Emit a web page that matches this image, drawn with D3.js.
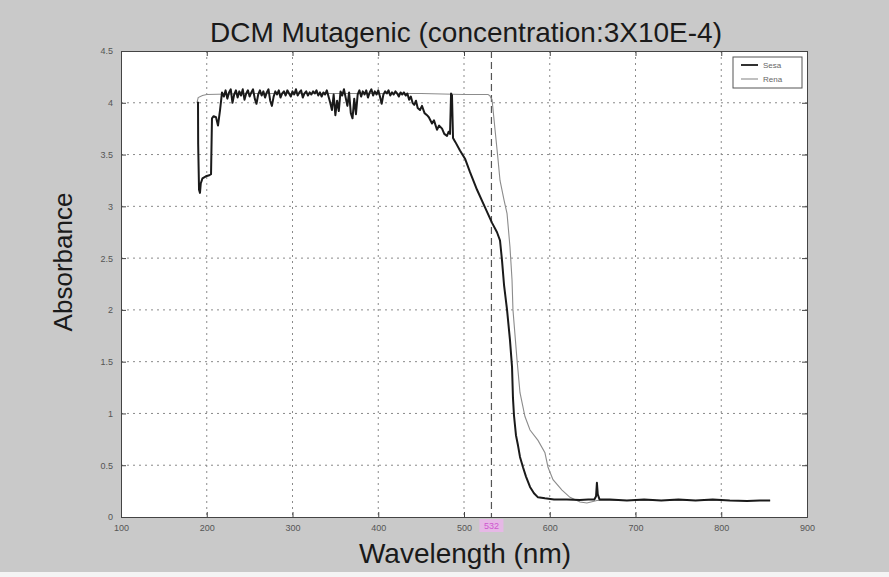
<!DOCTYPE html>
<html><head><meta charset="utf-8">
<script src="https://cdn.jsdelivr.net/npm/d3@7"></script>
<style>html,body{margin:0;padding:0;background:#c9c9c9;}svg{display:block;}</style>
</head><body>
<script>
const title = "DCM Mutagenic (concentration:3X10E-4)";
const xLabel = "Wavelength (nm)";
const yLabel = "Absorbance";
const xTicks = [100,200,300,400,500,600,700,800,900];
const yTicks = [0,0.5,1,1.5,2,2.5,3,3.5,4,4.5];
const seriesNames = ["Sesa","Rena"];
const markerWl = 532;

const blackWl = [189.8,190,191,192.1,193,195,197,199,203,205,206.1,208,210.8,213.1,215.5,217.8,
220,222,224,226,228,230,232,234,236,238,240,242,244,246,248,250,252,254,256,258,260,262,264,266,268,270,272,274,276,278,280,282,284,286,288,290,292,294,296,298,300,302,304,306,308,310,312,314,316,318,320,322,324,326,328,330,332,334,336,338,340,342,344,346,348,350,352,354,356,358,360,362,364,366,368,370,372,374,376,378,380,382,384,386,388,390,392,394,396,398,400,402,404,406,408,410,412,414,416,418,420,422,424,426,428,430,432,434,436,438,440,
442,444,446,448.7,451,454,456.9,459,462.7,465,468.5,471,474.4,477,480.2,482,483.7,484.9,486,487.2,490,495.3,501.2,507,515.2,524.5,532.7,538.5,542,544.3,546.7,550.2,553.6,556,557.1,558.3,560.6,563,565.3,568.8,572.3,577,581.6,586.3,594.4,605,620,635,645,652,654,655,656,658,670,690,710,730,750,770,790,810,830,845,857];
const blackAbs = [4.01,3.60,3.16,3.13,3.22,3.27,3.28,3.29,3.30,3.31,3.85,3.87,3.86,3.78,3.93,4.10,
4.06,4.12,4.04,4.10,4.13,4.00,4.08,4.12,4.05,4.11,4.07,4.13,4.03,4.09,4.12,4.06,4.10,4.13,4.04,3.99,4.08,4.12,4.07,4.11,4.05,4.10,4.13,4.02,3.97,4.06,4.11,4.08,4.12,4.05,4.09,4.11,4.07,4.12,4.09,4.06,4.11,4.08,4.13,4.07,4.10,4.12,4.05,4.09,4.11,4.07,4.10,4.08,4.11,4.09,4.12,4.07,4.10,4.06,4.10,4.08,4.12,4.06,4.00,3.93,4.08,3.88,4.02,3.92,4.11,4.07,4.13,4.05,3.97,4.10,3.90,3.85,4.04,3.89,4.08,4.12,4.06,4.11,4.08,4.12,4.05,4.10,4.13,4.07,4.11,4.08,4.12,4.06,3.99,4.08,4.11,4.09,4.12,4.07,4.10,4.08,4.11,4.09,4.06,4.10,4.08,4.10,4.07,4.09,4.03,4.06,4.00,
3.98,4.02,3.95,3.93,3.97,3.90,3.88,3.86,3.80,3.83,3.74,3.78,3.75,3.70,3.68,3.72,3.70,4.09,4.07,3.66,3.62,3.54,3.46,3.33,3.16,2.99,2.84,2.75,2.67,2.48,2.24,2.00,1.71,1.45,1.15,0.98,0.79,0.69,0.58,0.48,0.39,0.29,0.23,0.19,0.18,0.17,0.17,0.165,0.17,0.17,0.20,0.33,0.22,0.17,0.17,0.16,0.17,0.16,0.17,0.16,0.17,0.16,0.155,0.16,0.16];

const grayWl = [188.6,190,195,200,250,300,350,400,450,500,528,530,532.7,536.2,539.7,542,546.7,550.2,553.6,556,557.1,561.8,565.3,571.1,577,586.3,594.4,598,603.8,614.3,623.6,635.3,643.4,655,700,760,857];
const grayAbs = [4.00,4.05,4.07,4.08,4.09,4.09,4.09,4.09,4.09,4.08,4.08,4.07,4.03,3.74,3.45,3.25,3.06,2.93,2.61,2.29,2.00,1.52,1.20,0.97,0.84,0.74,0.62,0.48,0.36,0.26,0.19,0.145,0.135,0.16,0.16,0.16,0.16];

const W = 889, H = 577;
const m = {l:121, r:807, t:51, b:517};
const svg = d3.select("body").append("svg").attr("width",W).attr("height",H);
svg.append("rect").attr("width",W).attr("height",H).attr("fill","#c9c9c9");
svg.append("rect").attr("x",0).attr("y",572).attr("width",W).attr("height",5).attr("fill","#f4f4f4");

const x = d3.scaleLinear().domain([100,900]).range([m.l,m.r]);
const y = d3.scaleLinear().domain([0,4.5]).range([m.b,m.t]);

svg.append("rect").attr("x",m.l).attr("y",m.t).attr("width",m.r-m.l).attr("height",m.b-m.t).attr("fill","#fff");

// grid
const g = svg.append("g");
g.selectAll(".vg").data(xTicks.slice(1,-1)).join("line")
  .attr("x1",d=>x(d)).attr("x2",d=>x(d)).attr("y1",m.t).attr("y2",m.b)
  .attr("stroke","#8a8a8a").attr("stroke-width",1).attr("stroke-dasharray","2,4");
g.selectAll(".hg").data(yTicks.slice(1,-1)).join("line")
  .attr("y1",d=>y(d)).attr("y2",d=>y(d)).attr("x1",m.l).attr("x2",m.r)
  .attr("stroke","#8a8a8a").attr("stroke-width",1).attr("stroke-dasharray","2,4");

// axes
const fmt = d => String(d);
const xAxis = d3.axisBottom(x).tickValues(xTicks).tickSize(-5).tickPadding(8).tickFormat(fmt);
const yAxis = d3.axisLeft(y).tickValues(yTicks).tickSize(-5).tickPadding(8).tickFormat(fmt);
const ax = svg.append("g").attr("transform",`translate(0,${m.b})`).call(xAxis);
const ay = svg.append("g").attr("transform",`translate(${m.l},0)`).call(yAxis);
svg.append("g").attr("transform",`translate(0,${m.t})`).call(d3.axisTop(x).tickValues(xTicks).tickSize(-5).tickFormat(""));
svg.append("g").attr("transform",`translate(${m.r},0)`).call(d3.axisRight(y).tickValues(yTicks).tickSize(-5).tickFormat(""));
svg.selectAll(".domain").attr("stroke","#444");
svg.selectAll(".tick line").attr("stroke","#444");
[ax,ay].forEach(a=>a.selectAll("text").attr("font-family","Liberation Sans, Arial, sans-serif").attr("font-size",9).attr("fill","#555"));

// marker line
svg.append("line").attr("x1",x(markerWl)).attr("x2",x(markerWl)).attr("y1",m.t).attr("y2",m.b)
  .attr("stroke","#555").attr("stroke-width",1.2).attr("stroke-dasharray","7,4");

// series
const line = d3.line().x(d=>x(d[0])).y(d=>y(d[1]));
svg.append("path").datum(grayWl.map((w,i)=>[w,grayAbs[i]])).attr("d",line)
  .attr("fill","none").attr("stroke","#8c8c8c").attr("stroke-width",1.1);
svg.append("path").datum(blackWl.map((w,i)=>[w,blackAbs[i]])).attr("d",line)
  .attr("fill","none").attr("stroke","#1a1a1a").attr("stroke-width",2).attr("stroke-linejoin","round");

// marker label
svg.append("rect").attr("x",x(markerWl)-12).attr("y",519).attr("width",24).attr("height",13).attr("fill","#e6b8e6");
svg.append("text").attr("x",x(markerWl)).attr("y",529).attr("text-anchor","middle")
  .attr("font-family","Liberation Sans, Arial, sans-serif").attr("font-size",9).attr("fill","#d055d0").text(markerWl);

// legend
const lg = svg.append("g");
lg.append("rect").attr("x",733).attr("y",57).attr("width",69).attr("height",31).attr("fill","#fff").attr("stroke","#555").attr("stroke-width",1);
lg.append("line").attr("x1",741).attr("x2",758).attr("y1",65).attr("y2",65).attr("stroke","#1a1a1a").attr("stroke-width",1.8);
lg.append("line").attr("x1",741).attr("x2",758).attr("y1",79).attr("y2",79).attr("stroke","#8c8c8c").attr("stroke-width",1.1);
lg.append("text").attr("x",763).attr("y",68).text(seriesNames[0]);
lg.append("text").attr("x",763).attr("y",82).text(seriesNames[1]);
lg.selectAll("text").attr("font-family","Liberation Sans, Arial, sans-serif").attr("font-size",8).attr("fill","#666");

// titles
svg.append("text").attr("x",466).attr("y",42).attr("text-anchor","middle")
  .attr("font-family","Liberation Sans, Arial, sans-serif").attr("font-size",28).attr("fill","#1a1a1a").text(title);
svg.append("text").attr("x",465).attr("y",563).attr("text-anchor","middle")
  .attr("font-family","Liberation Sans, Arial, sans-serif").attr("font-size",28).attr("fill","#1a1a1a").text(xLabel);
svg.append("text").attr("transform","translate(72,262) rotate(-90)").attr("text-anchor","middle")
  .attr("font-family","Liberation Sans, Arial, sans-serif").attr("font-size",26).attr("fill","#1a1a1a").text(yLabel);
</script>
</body></html>
